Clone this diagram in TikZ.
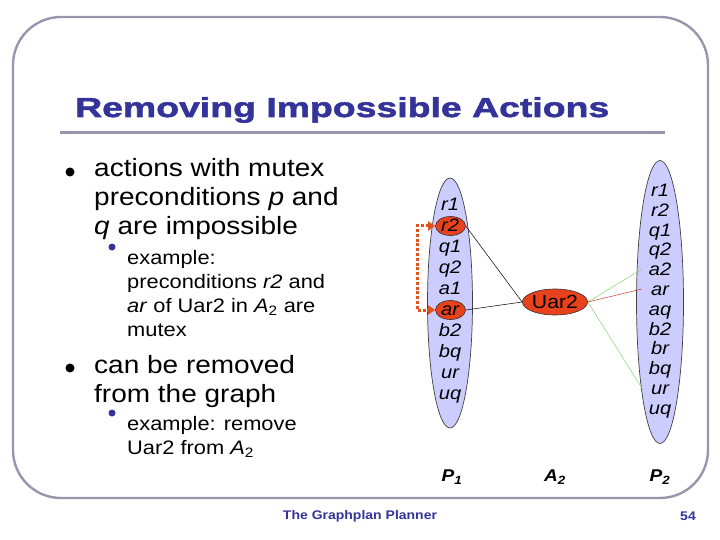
\documentclass[tikz,border=0pt]{standalone}
\usepackage{fontspec}
\setmainfont[FakeStretch=1.12]{Liberation Sans}
\newfontfamily\titlefont[FakeStretch=1.36,FakeBold=2]{Liberation Sans}
\usetikzlibrary{shapes.geometric,arrows.meta}
\definecolor{titleblue}{RGB}{51,51,153}
\definecolor{framegray}{RGB}{150,150,172}
\definecolor{lavender}{RGB}{204,204,255}
\definecolor{redfill}{RGB}{232,66,28}
\definecolor{arrowred}{RGB}{226,82,30}
\definecolor{linegreen}{RGB}{130,214,110}
\definecolor{linered}{RGB}{205,60,50}
\tikzset{
  maintext/.style={anchor=base west,inner sep=0pt,font=\fontsize{25}{29}\selectfont},
  subtext/.style={anchor=base west,inner sep=0pt,font=\fontsize{19.5}{24}\selectfont},
  dotmain/.style={circle,fill=black,inner sep=0pt,minimum size=9pt},
  dotsub/.style={circle,fill=titleblue,inner sep=0pt,minimum size=7pt},
  setell/.style={ellipse,draw=black!75,line width=0.7pt,fill=lavender,inner sep=0pt},
  item/.style={inner sep=0pt,font=\fontsize{18}{18}\selectfont\itshape,text height=13pt,text depth=0pt,minimum width=36pt},
  hl/.style={ellipse,draw=black!80,line width=0.6pt,fill=redfill,inner sep=0pt,minimum width=30pt,minimum height=19pt},
  lbl/.style={inner sep=0pt,font=\fontsize{17}{17}\selectfont\bfseries\itshape},
  foot/.style={inner sep=0pt,text=titleblue,font=\fontsize{12.5}{13}\selectfont\bfseries},
  link/.style={line width=0.5pt},
}
\begin{document}
\begin{tikzpicture}[x=1pt,y=-1pt]
\useasboundingbox (0,0) rectangle (720,540);
% frame
\draw[framegray,line width=2.4pt,rounded corners=48pt] (13,17) rectangle (708,498);
% title
\node[anchor=base west,inner sep=0pt,text=titleblue,font=\fontsize{27.5}{30}\titlefont\bfseries] (title) at (75,117) {Removing Impossible Actions};
\draw[framegray,line width=3pt] (60,133) -- (665,133);
% bullets and text
\node[dotmain] (b1) at (70,172) {};
\node[maintext] (m1a) at (94,177) {actions with mutex};
\node[maintext] (m1b) at (94,206) {preconditions \textit{p} and};
\node[maintext] (m1c) at (94,235) {\textit{q} are impossible};
\node[dotsub] (s1) at (112,247) {};
\node[subtext] (s1a) at (127,264) {example:};
\node[subtext] (s1b) at (127,288) {preconditions \textit{r2} and};
\node[subtext] (s1c) at (127,312) {\textit{ar} of Uar2 in \textit{A}\textsubscript{2} are};
\node[subtext] (s1d) at (127,336) {mutex};
\node[dotmain] (b2) at (70,368) {};
\node[maintext] (m2a) at (94,373) {can be removed};
\node[maintext] (m2b) at (94,402) {from the graph};
\node[dotsub] (s2) at (112,413) {};
\node[subtext] (s2a) at (127,430) {example: remove};
\node[subtext] (s2b) at (127,454) {Uar2 from \textit{A}\textsubscript{2}};
% P1 ellipse
\node[setell,minimum width=45pt,minimum height=250pt] (P1) at (450,303) {};
\node[item] (l-r1) at (450,204) {r1};
\node[hl] (l-r2h) at (450.5,226) {};
\node[item] (l-r2) at (450,225) {r2};
\node[item] (l-q1) at (450,246) {q1};
\node[item] (l-q2) at (450,267) {q2};
\node[item] (l-a1) at (450,288) {a1};
\node[hl] (l-arh) at (450.5,310) {};
\node[item] (l-ar) at (450,309) {ar};
\node[item] (l-b2) at (450,330) {b2};
\node[item] (l-bq) at (450,351) {bq};
\node[item] (l-ur) at (450,372) {ur};
\node[item] (l-uq) at (450,393) {uq};
% P2 ellipse
\node[setell,minimum width=47pt,minimum height=283pt] (P2) at (660,302) {};
\node[item] (r-r1) at (660,190) {r1};
\node[item] (r-r2) at (660,209.8) {r2};
\node[item] (r-q1) at (660,229.6) {q1};
\node[item] (r-q2) at (660,249.4) {q2};
\node[item] (r-a2) at (660,269.2) {a2};
\node[item] (r-ar) at (660,289) {ar};
\node[item] (r-aq) at (660,308.8) {aq};
\node[item] (r-b2) at (660,328.6) {b2};
\node[item] (r-br) at (660,348.4) {br};
\node[item] (r-bq) at (660,368.2) {bq};
\node[item] (r-ur) at (660,388) {ur};
\node[item] (r-uq) at (660,407.8) {uq};
% action
\node[ellipse,draw=black!80,line width=0.6pt,fill=redfill,inner sep=0pt,minimum width=54pt,minimum height=26pt,font=\fontsize{19}{19}\selectfont] (uar) at (555,302) {Uar2};
% links
\draw[link] (l-r2h.east) -- (uar.west);
\draw[link] (l-arh.east) -- (uar.west);
\draw[link,linegreen] (uar.east) -- (r-a2.west);
\draw[link,linegreen] (uar.east) -- (r-ur.west);
\draw[link,linered] (uar.east) -- (r-ar.west);
% mutex arrow
\draw[arrowred,line width=3pt,dash pattern=on 3pt off 1.8pt,{Triangle[length=7pt,width=9pt]}-{Triangle[length=7pt,width=9pt]}] (l-r2h.west) -- ++(-18,0) |- (l-arh.west);
% level labels
\node[lbl] (lp1) at (452,477) {\textit{P}\textsubscript{1}};
\node[lbl] (la2) at (555,477) {\textit{A}\textsubscript{2}};
\node[lbl] (lp2) at (660,477) {\textit{P}\textsubscript{2}};
% footer
\node[foot] (ft) at (360,516) {The Graphplan Planner};
\node[foot] (pg) at (688,516) {54};
\end{tikzpicture}
\end{document}
